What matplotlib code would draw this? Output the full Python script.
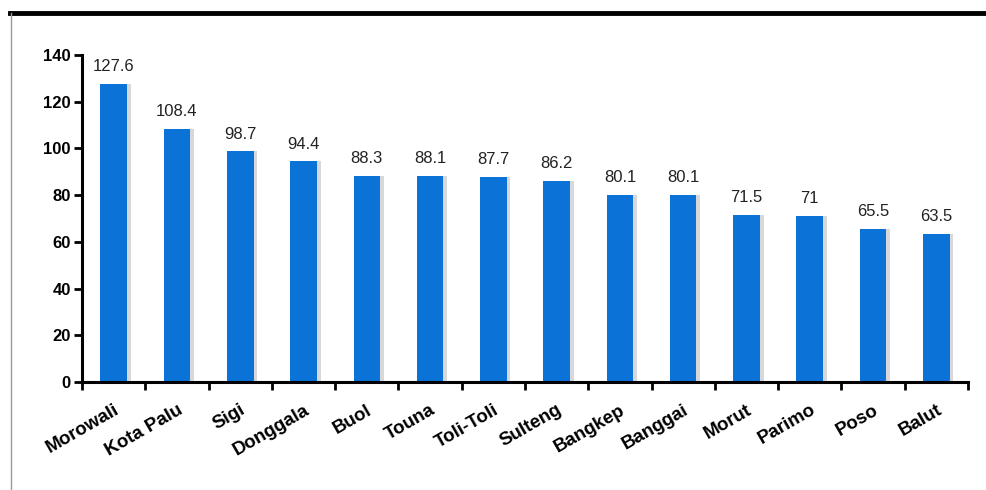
import matplotlib.pyplot as plt
from matplotlib.lines import Line2D

regions = ['Morowali', 'Kota Palu', 'Sigi', 'Donggala', 'Buol', 'Touna',
           'Toli-Toli', 'Sulteng', 'Bangkep', 'Banggai', 'Morut', 'Parimo',
           'Poso', 'Balut']
values = [127.6, 108.4, 98.7, 94.4, 88.3, 88.1, 87.7, 86.2, 80.1, 80.1,
          71.5, 71, 65.5, 63.5]
value_labels = ['127.6', '108.4', '98.7', '94.4', '88.3', '88.1', '87.7',
                '86.2', '80.1', '80.1', '71.5', '71', '65.5', '63.5']
yticks = [0, 20, 40, 60, 80, 100, 120, 140]

plt.rcParams['font.family'] = ['Liberation Sans', 'DejaVu Sans']

fig = plt.figure(figsize=(9.86, 4.9), dpi=100)
ax = fig.add_axes([0.0832, 0.2204, 0.8985, 0.6674])

x = list(range(len(regions)))
ax.bar([i + 0.06 for i in x], values, width=0.42, color='#d8d8d8', zorder=1)
ax.bar(x, values, width=0.42, color='#0b72d8', zorder=2)

for i, (v, lab) in enumerate(zip(values, value_labels)):
    ax.annotate(lab, (i, v), xytext=(0, 7), textcoords='offset points',
                ha='center', va='bottom', fontsize=12, color='#222222')

ax.set_xlim(-0.5, len(regions) - 0.5)
ax.set_ylim(0, 140)
ax.set_yticks(yticks)
ax.set_yticklabels([str(t) for t in yticks], fontsize=12, fontweight='bold')

# ticks between the bars, labels at bar centres
ax.set_xticks([i - 0.5 for i in range(len(regions) + 1)])
ax.set_xticklabels([])
ax.set_xticks(x, minor=True)
ax.set_xticklabels(regions, minor=True, rotation=30, ha='right',
                   rotation_mode='anchor', fontsize=13.5, fontweight='bold')
ax.tick_params(axis='x', which='minor', length=0, pad=14)
ax.tick_params(axis='x', which='major', length=6, width=2)
ax.tick_params(axis='y', length=6, width=2, pad=2)

for side in ['top', 'right']:
    ax.spines[side].set_visible(False)
for side in ['left', 'bottom']:
    ax.spines[side].set_linewidth(2.2)

# frame lines of the original picture
fig.add_artist(Line2D([0.010, 1.0], [0.973, 0.973], color='black', lw=3.5))
fig.add_artist(Line2D([0.011, 0.011], [0.0, 0.973], color='#9a9a9a', lw=1))

fig.savefig('out.png', dpi=100)
plt.close(fig)
